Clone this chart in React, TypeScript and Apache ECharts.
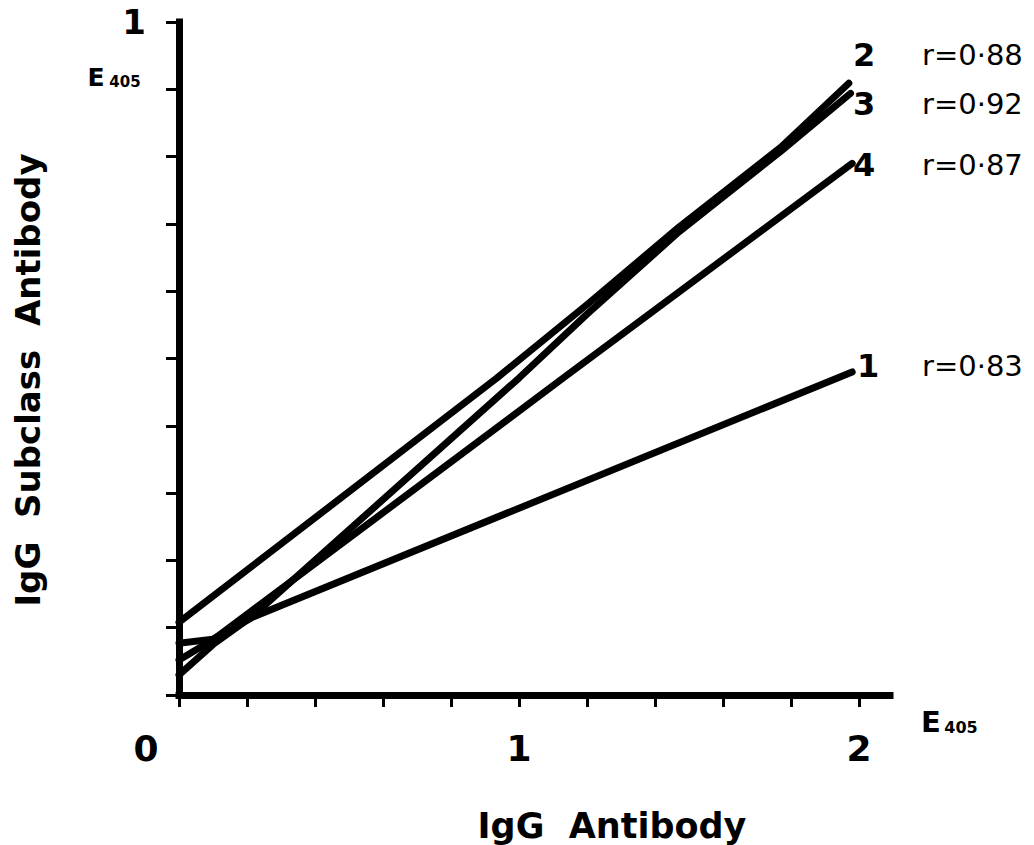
import React, { useEffect, useRef } from "react";
import * as echarts from "echarts";

// ---- data ----
const seriesNames = ["1", "2", "3", "4"];
const correlations = ["r=0·83", "r=0·88", "r=0·92", "r=0·87"];

const line1X = [0, 0.1, 0.218, 1.98];
const line1Y = [0.077, 0.083, 0.116, 0.48];

const line2X = [0, 0.935, 1.2, 1.47, 1.77, 1.97];
const line2Y = [0.108, 0.471, 0.58, 0.695, 0.814, 0.909];

const line3X = [0, 0.1, 0.218, 1.0, 1.2, 1.47, 1.77, 1.975];
const line3Y = [0.03, 0.075, 0.118, 0.471, 0.566, 0.688, 0.808, 0.894];

const line4X = [0, 0.1, 1.13, 1.98];
const line4Y = [0.052, 0.082, 0.471, 0.79];

const xTickLabels = ["0", "1", "2"];
const yTickLabels = ["1"];
const xTitle = "IgG  Antibody";
const yTitle = "IgG  Subclass  Antibody";

const FONT = "DejaVu Sans";

function zip(xs: number[], ys: number[]) {
  return xs.map((x, i) => [x, ys[i]]);
}

export default function App() {
  const ref = useRef<HTMLDivElement>(null);

  useEffect(() => {
    if (!ref.current) return;
    const chart = echarts.init(ref.current, undefined, { renderer: "svg" });

    const lines = [
      zip(line1X, line1Y),
      zip(line2X, line2Y),
      zip(line3X, line3Y),
      zip(line4X, line4Y),
    ];

    const near = (v: number, t: number) => Math.abs(v - t) < 1e-6;

    // label positions (pixels) for the line numbers and r values
    const labelY = [366, 55, 104, 165];
    const labelX = [868, 864, 864, 864];

    const graphics: any[] = [];
    seriesNames.forEach((n, i) => {
      graphics.push({
        type: "text",
        x: labelX[i],
        y: labelY[i],
        style: {
          text: n,
          font: `bold 32px "${FONT}"`,
          fill: "#000",
          textAlign: "center",
          textVerticalAlign: "middle",
        },
      });
      graphics.push({
        type: "text",
        x: 922,
        y: labelY[i],
        style: {
          text: correlations[i],
          font: `29px "${FONT}"`,
          fill: "#000",
          textAlign: "left",
          textVerticalAlign: "middle",
        },
      });
    });
    // axis titles
    graphics.push({
      type: "text",
      x: 28,
      y: 380,
      rotation: Math.PI / 2,
      style: {
        text: yTitle,
        font: `bold 34px "${FONT}"`,
        fill: "#000",
        textAlign: "center",
        textVerticalAlign: "middle",
      },
    });
    graphics.push({
      type: "text",
      x: 612,
      y: 826,
      style: {
        text: xTitle,
        font: `bold 35px "${FONT}"`,
        fill: "#000",
        textAlign: "center",
        textVerticalAlign: "middle",
      },
    });
    // unit labels E405
    graphics.push(
      {
        type: "text",
        x: 96,
        y: 77,
        style: { text: "E", font: `bold 25px "${FONT}"`, fill: "#000", textAlign: "center", textVerticalAlign: "middle" },
      },
      {
        type: "text",
        x: 125,
        y: 82,
        style: { text: "405", font: `bold 15px "${FONT}"`, fill: "#000", textAlign: "center", textVerticalAlign: "middle" },
      },
      {
        type: "text",
        x: 931,
        y: 722,
        style: { text: "E", font: `bold 29px "${FONT}"`, fill: "#000", textAlign: "center", textVerticalAlign: "middle" },
      },
      {
        type: "text",
        x: 961,
        y: 727,
        style: { text: "405", font: `bold 16px "${FONT}"`, fill: "#000", textAlign: "center", textVerticalAlign: "middle" },
      }
    );

    const option: any = {
      animation: false,
      backgroundColor: "#fff",
      grid: [
        { left: 179, top: 22, width: 711, height: 673 },
        { left: 179, top: 22, width: 680, height: 673 },
      ],
      xAxis: [
        {
          gridIndex: 0,
          type: "value",
          min: 0,
          max: 2.09,
          axisLine: { show: true, onZero: false, lineStyle: { color: "#000", width: 7, cap: "square" } },
          axisTick: { show: false },
          axisLabel: { show: false },
          splitLine: { show: false },
        },
        {
          gridIndex: 1,
          type: "value",
          min: 0,
          max: 2,
          interval: 0.2,
          axisLine: { show: false, onZero: false },
          axisTick: { show: true, inside: false, length: 12, lineStyle: { color: "#000", width: 3 } },
          axisLabel: {
            show: true,
            margin: 35,
            color: "#000",
            fontFamily: FONT,
            fontWeight: "bold",
            fontSize: 36,
            formatter: (v: number) => {
              if (near(v, 0)) return "{z|" + xTickLabels[0] + "}";
              if (near(v, 1)) return xTickLabels[1];
              if (near(v, 2)) return xTickLabels[2];
              return "";
            },
            rich: {
              z: {
                fontFamily: FONT,
                fontWeight: "bold",
                fontSize: 36,
                color: "#000",
                padding: [0, 66, 0, 0],
              },
            },
          },
          splitLine: { show: false },
        },
      ],
      yAxis: [
        { gridIndex: 0, type: "value", min: 0, max: 1, show: false },
        {
          gridIndex: 1,
          type: "value",
          min: 0,
          max: 1,
          interval: 0.1,
          axisLine: { show: true, onZero: false, lineStyle: { color: "#000", width: 7, cap: "square" } },
          axisTick: { show: true, inside: false, length: 13, lineStyle: { color: "#000", width: 3 } },
          axisLabel: {
            show: true,
            margin: 33,
            color: "#000",
            fontFamily: FONT,
            fontWeight: "bold",
            fontSize: 34,
            formatter: (v: number) => (near(v, 1) ? yTickLabels[0] : ""),
          },
          splitLine: { show: false },
        },
      ],
      series: lines.map((d, i) => ({
        name: seriesNames[i],
        type: "line",
        xAxisIndex: 1,
        yAxisIndex: 1,
        data: d,
        symbol: "none",
        showSymbol: false,
        lineStyle: { color: "#000", width: 7, cap: "round", join: "round" },
        z: 3,
      })),
      graphic: graphics,
    };

    chart.setOption(option);
    return () => chart.dispose();
  }, []);

  return (
    <div
      ref={ref}
      style={{ position: "fixed", left: 0, top: 0, width: 1034, height: 845, background: "#fff" }}
    />
  );
}
